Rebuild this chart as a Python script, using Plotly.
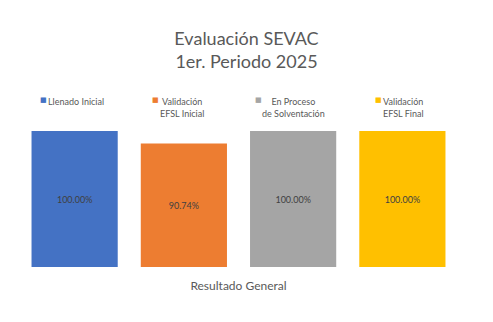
import plotly.graph_objects as go

categories = ["Resultado General"]
series_names = ["Llenado Inicial", "Validación<br>EFSL Inicial", "En Proceso<br>de Solventación", "Validación<br>EFSL Final"]
series_values = [1.0, 0.9074, 1.0, 1.0]
series_colors = ["#4472C4", "#ED7D31", "#A5A5A5", "#FFC000"]

W, H = 493, 322
ML, MR, MT, MB = 20, 36, 131, 55
PW, PH = W - ML - MR, H - MT - MB

fig = go.Figure()
for name, val, col in zip(series_names, series_values, series_colors):
    fig.add_trace(go.Bar(
        x=categories, y=[val], name=name, marker_color=col, marker_line_width=0,
        text=[f"{val*100:.2f}%"], textposition="inside", insidetextanchor="middle",
        textfont=dict(family="Lato", size=9, color="#404040"),
        showlegend=False,
    ))

def px_x(px):
    return (px - ML) / PW

def px_y(py):
    return (H - MB - py) / PH

# legend drawn as annotations (square + label)
leg_sq_x = [43, 155, 258, 378]
leg_txt_x = [46, 158, 260, 381]
annotations = []
for name, col, sx, tx in zip(series_names, series_colors, leg_sq_x, leg_txt_x):
    annotations.append(dict(
        text="■", x=px_x(sx), y=px_y(100), xref="paper", yref="paper",
        xanchor="center", yanchor="middle", showarrow=False,
        font=dict(family="DejaVu Sans", size=7, color=col),
    ))
    annotations.append(dict(
        text=name, x=px_x(tx), y=px_y(94), xref="paper", yref="paper",
        xanchor="left", yanchor="top", align="center", showarrow=False,
        font=dict(family="Lato", size=9, color="#595959"),
    ))

fig.update_layout(
    width=W, height=H,
    margin=dict(l=ML, r=MR, t=MT, b=MB, pad=0),
    paper_bgcolor="white", plot_bgcolor="white",
    barmode="group", bargap=0, bargroupgap=0.211,
    title=dict(
        text="Evaluación SEVAC<br>1er. Periodo 2025",
        x=0.5, xref="container", xanchor="center",
        y=1 - 45 / H, yref="container", yanchor="middle",
        font=dict(family="Lato", size=18, color="#595959"),
    ),
    xaxis=dict(showgrid=False, showline=False, zeroline=False, ticks="",
               tickfont=dict(family="Lato", size=12, color="#595959"),
               ticklabelstandoff=10),
    yaxis=dict(range=[0, 1], visible=False, showgrid=False),
    annotations=annotations,
    uniformtext=dict(mode=False),
)

fig.write_html("out.html")
